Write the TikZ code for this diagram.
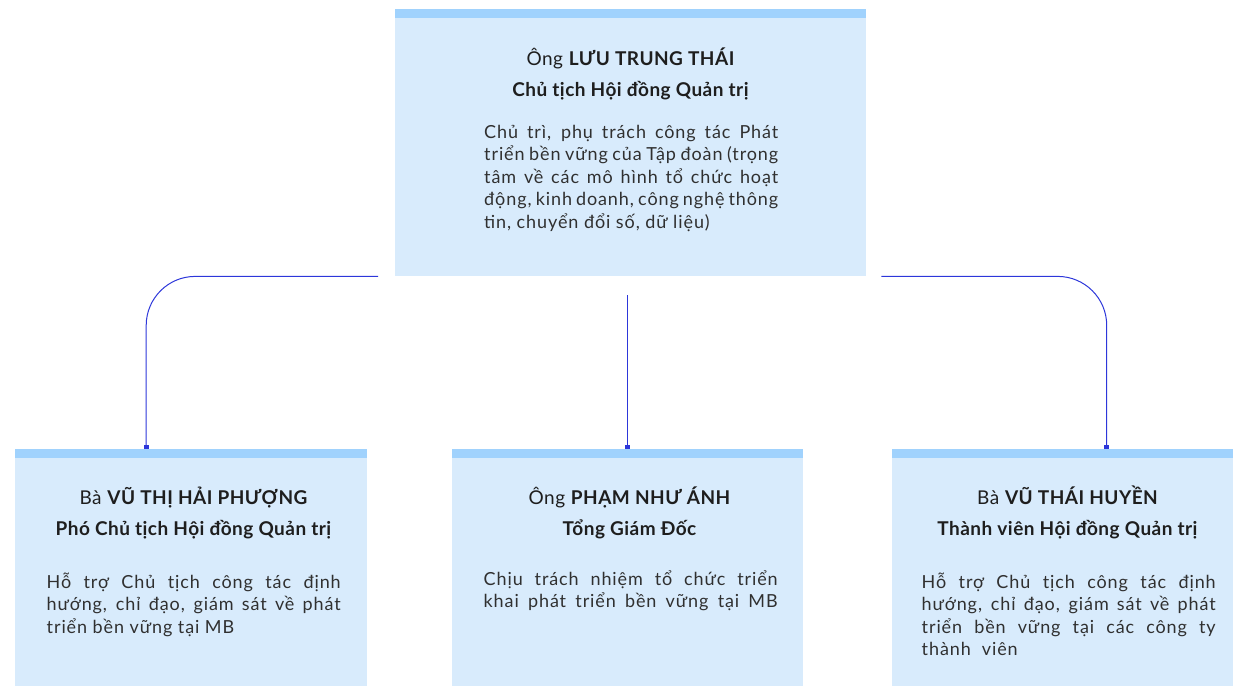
\documentclass[tikz,border=0pt]{standalone}
\usepackage{fontspec}
\setmainfont{Lato}
\newfontfamily\headfont{Lato}[LetterSpace=2.5]
\newfontfamily\bodyfont{Lato}[LetterSpace=5]
\usepackage{xcolor}
\usetikzlibrary{arrows.meta,positioning}

\definecolor{cardfill}{RGB}{216,235,252}
\definecolor{cardbar}{RGB}{160,210,253}
\definecolor{linkblue}{RGB}{45,55,218}
\definecolor{headtext}{RGB}{30,30,30}
\definecolor{bodytext}{RGB}{48,48,48}

\begin{document}
\begin{tikzpicture}[
  x=1pt, y=-1pt,
  card/.style={fill=cardfill, anchor=north west, inner sep=0pt,
               minimum height=#1,
               path picture={\fill[cardbar] (path picture bounding box.north west)
                 rectangle ([yshift=-8.5pt]path picture bounding box.north east);}},
  head/.style={align=center, anchor=base, inner sep=0pt, text=headtext,
               font=\headfont\fontsize{19}{31}\selectfont},
  body/.style={align=justify, text width=294pt, anchor=base, inner sep=0pt,
               text=bodytext, font=\bodyfont\fontsize{18}{22.5}\selectfont,
               execute at begin node={\hyphenpenalty=10000}},
  link/.style={draw=linkblue, line width=1pt, rounded corners=49pt,
               -{Square[length=4pt,width=5pt]}}
]
  \useasboundingbox (0,0) rectangle (1233,686);

  % Chairman
  \node[card=267pt, minimum width=471pt] (top) at (395,9) {};
  \node[head] (topname) at ([yshift=-87pt]top.north)
    {Ông \textbf{LƯU TRUNG THÁI}\\\textbf{Chủ tịch Hội đồng Quản trị}};
  \node[body] (topbody) at ([xshift=0.5pt,yshift=-129pt]top.north)
    {Chủ trì, phụ trách công tác Phát\linebreak
     triển bền vững của Tập đoàn (trọng\linebreak
     tâm về các mô hình tổ chức hoạt\linebreak
     động, kinh doanh, công nghệ thông\linebreak
     tin, chuyển đổi số, dữ liệu)};

  % Vice chairwoman
  \node[card=237pt, minimum width=352pt] (left) at (15,449) {};
  \node[head] (leftname) at ([xshift=2.5pt,yshift=-86pt]left.north)
    {Bà \textbf{VŨ THỊ HẢI PHƯỢNG}\\\textbf{Phó Chủ tịch Hội đồng Quản trị}};
  \node[body] (leftbody) at ([xshift=2.5pt,yshift=-139pt]left.north)
    {Hỗ trợ Chủ tịch công tác định\linebreak
     hướng, chỉ đạo, giám sát về phát\linebreak
     triển bền vững tại MB};

  % CEO
  \node[card=237pt, minimum width=351pt] (mid) at (452,449) {};
  \node[head] (midname) at ([xshift=2pt,yshift=-86pt]mid.north)
    {Ông \textbf{PHẠM NHƯ ÁNH}\\\textbf{Tổng Giám Đốc}};
  \node[body] (midbody) at ([xshift=3pt,yshift=-136pt]mid.north)
    {Chịu trách nhiệm tổ chức triển\linebreak
     khai phát triển bền vững tại MB\linebreak};

  % Board member
  \node[card=237pt, minimum width=341pt] (rgt) at (892,449) {};
  \node[head] (rgtname) at ([xshift=5pt,yshift=-86pt]rgt.north)
    {Bà \textbf{VŨ THÁI HUYỀN}\\\textbf{Thành viên Hội đồng Quản trị}};
  \node[body] (rgtbody) at ([xshift=6pt,yshift=-139pt]rgt.north)
    {Hỗ trợ Chủ tịch công tác định\linebreak
     hướng, chỉ đạo, giám sát về phát\linebreak
     triển bền vững tại các công ty\linebreak
     thành\ \ viên};

  % Connectors
  \draw[link] ([xshift=-17pt]top.south west) -| ([xshift=-45pt]left.north);
  \draw[link] ([yshift=-19pt]top.south -| mid.north) -- (mid.north);
  \draw[link] ([xshift=15pt]top.south east) -| ([xshift=44pt]rgt.north);
\end{tikzpicture}
\end{document}
